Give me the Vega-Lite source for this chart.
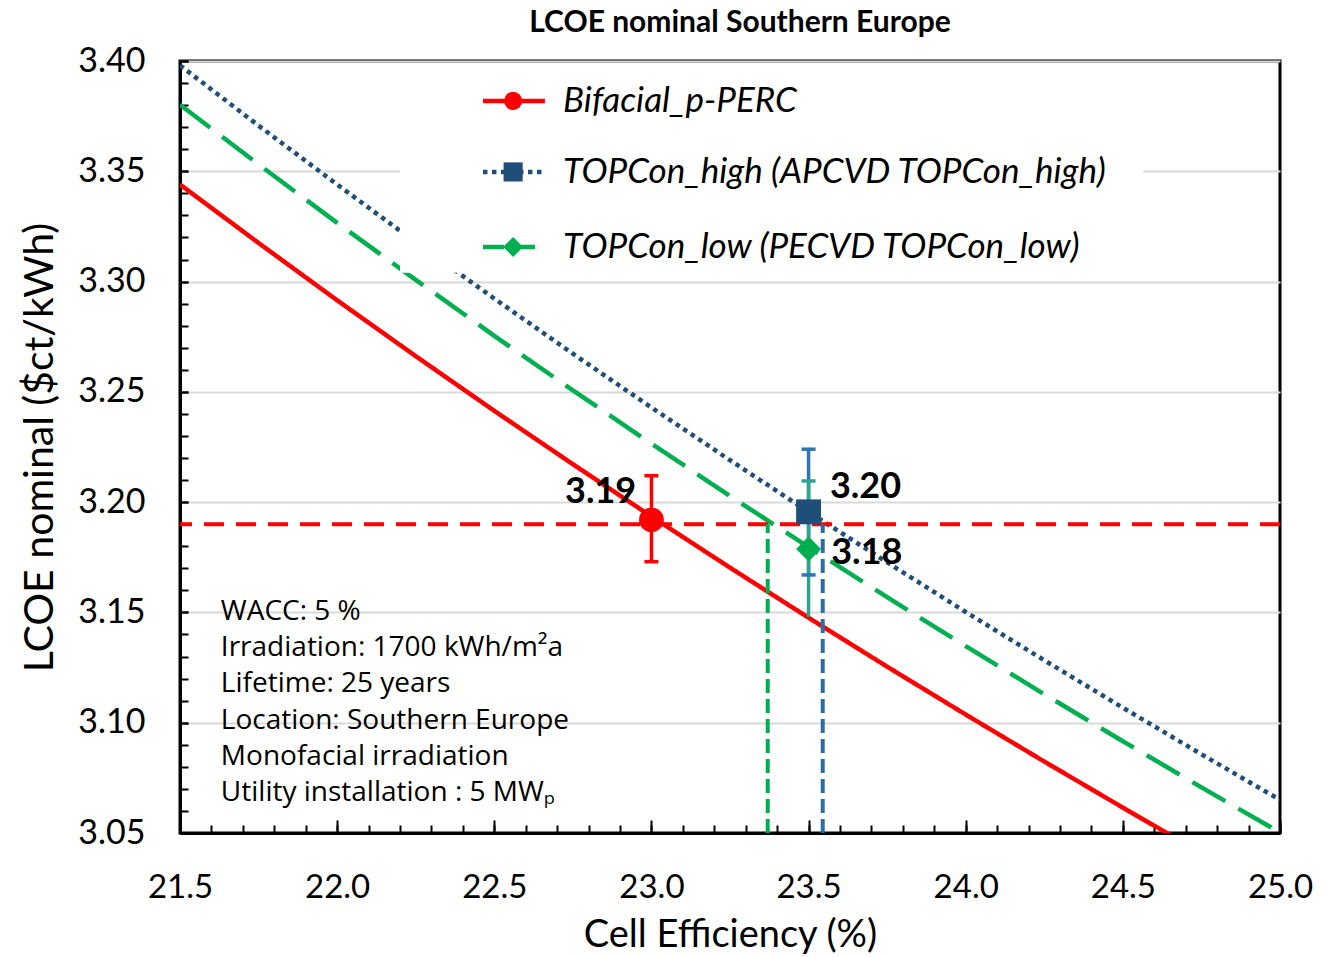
{
  "$schema": "https://vega.github.io/schema/vega-lite/v6.json",
  "width": 1100,
  "height": 772,
  "autosize": "none",
  "padding": {"left": 180, "top": 61, "right": 60, "bottom": 124},
  "background": "white",
  "config": {"view": {"stroke": "black", "strokeWidth": 3}, "font": "Lato"},
  "title": {"text": "LCOE nominal Southern Europe", "fontSize": 30, "fontWeight": "bold", "font": "Lato", "anchor": "middle", "frame": "group", "offset": 6, "dx": 10, "color": "black"},
  "datasets": {
    "lines": [
      {"series": "Bifacial_p-PERC", "eff": 21.5, "lcoe": 3.3440},
      {"series": "Bifacial_p-PERC", "eff": 21.75, "lcoe": 3.3175},
      {"series": "Bifacial_p-PERC", "eff": 22.0, "lcoe": 3.2915},
      {"series": "Bifacial_p-PERC", "eff": 22.25, "lcoe": 3.2662},
      {"series": "Bifacial_p-PERC", "eff": 22.5, "lcoe": 3.2414},
      {"series": "Bifacial_p-PERC", "eff": 22.75, "lcoe": 3.2172},
      {"series": "Bifacial_p-PERC", "eff": 23.0, "lcoe": 3.1935},
      {"series": "Bifacial_p-PERC", "eff": 23.25, "lcoe": 3.1703},
      {"series": "Bifacial_p-PERC", "eff": 23.5, "lcoe": 3.1476},
      {"series": "Bifacial_p-PERC", "eff": 23.75, "lcoe": 3.1254},
      {"series": "Bifacial_p-PERC", "eff": 24.0, "lcoe": 3.1037},
      {"series": "Bifacial_p-PERC", "eff": 24.25, "lcoe": 3.0824},
      {"series": "Bifacial_p-PERC", "eff": 24.5, "lcoe": 3.0615},
      {"series": "Bifacial_p-PERC", "eff": 24.75, "lcoe": 3.0410},
      {"series": "Bifacial_p-PERC", "eff": 25.0, "lcoe": 3.0210},
      {"series": "TOPCon_high", "eff": 21.5, "lcoe": 3.3980},
      {"series": "TOPCon_high", "eff": 21.75, "lcoe": 3.3707},
      {"series": "TOPCon_high", "eff": 22.0, "lcoe": 3.3440},
      {"series": "TOPCon_high", "eff": 22.25, "lcoe": 3.3178},
      {"series": "TOPCon_high", "eff": 22.5, "lcoe": 3.2923},
      {"series": "TOPCon_high", "eff": 22.75, "lcoe": 3.2673},
      {"series": "TOPCon_high", "eff": 23.0, "lcoe": 3.2429},
      {"series": "TOPCon_high", "eff": 23.25, "lcoe": 3.2190},
      {"series": "TOPCon_high", "eff": 23.5, "lcoe": 3.1956},
      {"series": "TOPCon_high", "eff": 23.75, "lcoe": 3.1727},
      {"series": "TOPCon_high", "eff": 24.0, "lcoe": 3.1502},
      {"series": "TOPCon_high", "eff": 24.25, "lcoe": 3.1283},
      {"series": "TOPCon_high", "eff": 24.5, "lcoe": 3.1068},
      {"series": "TOPCon_high", "eff": 24.75, "lcoe": 3.0857},
      {"series": "TOPCon_high", "eff": 25.0, "lcoe": 3.0650},
      {"series": "TOPCon_low", "eff": 21.5, "lcoe": 3.3802},
      {"series": "TOPCon_low", "eff": 21.75, "lcoe": 3.3531},
      {"series": "TOPCon_low", "eff": 22.0, "lcoe": 3.3266},
      {"series": "TOPCon_low", "eff": 22.25, "lcoe": 3.3008},
      {"series": "TOPCon_low", "eff": 22.5, "lcoe": 3.2754},
      {"series": "TOPCon_low", "eff": 22.75, "lcoe": 3.2507},
      {"series": "TOPCon_low", "eff": 23.0, "lcoe": 3.2265},
      {"series": "TOPCon_low", "eff": 23.25, "lcoe": 3.2028},
      {"series": "TOPCon_low", "eff": 23.5, "lcoe": 3.1796},
      {"series": "TOPCon_low", "eff": 23.75, "lcoe": 3.1569},
      {"series": "TOPCon_low", "eff": 24.0, "lcoe": 3.1347},
      {"series": "TOPCon_low", "eff": 24.25, "lcoe": 3.1129},
      {"series": "TOPCon_low", "eff": 24.5, "lcoe": 3.0916},
      {"series": "TOPCon_low", "eff": 24.75, "lcoe": 3.0707},
      {"series": "TOPCon_low", "eff": 25.0, "lcoe": 3.0502}
    ],
    "points": [
      {"series": "Bifacial_p-PERC", "eff": 23.0, "lcoe": 3.192, "lo": 3.173, "hi": 3.212},
      {"series": "TOPCon_high", "eff": 23.5, "lcoe": 3.1956, "lo": 3.167, "hi": 3.224},
      {"series": "TOPCon_low", "eff": 23.5, "lcoe": 3.1788, "lo": 3.148, "hi": 3.2096}
    ],
    "caps": [
      {"series": "Bifacial_p-PERC", "eff": 23.0, "lcoe": 3.212},
      {"series": "Bifacial_p-PERC", "eff": 23.0, "lcoe": 3.173},
      {"series": "TOPCon_high", "eff": 23.5, "lcoe": 3.224},
      {"series": "TOPCon_high", "eff": 23.5, "lcoe": 3.167},
      {"series": "TOPCon_low", "eff": 23.5, "lcoe": 3.2096}
    ],
    "guides": [
      {"series": "TOPCon_low", "eff": 23.37, "lcoe": 3.05, "top": 3.19},
      {"series": "TOPCon_high", "eff": 23.545, "lcoe": 3.05, "top": 3.19}
    ],
    "valueLabels": [
      {"eff": 22.725, "lcoe": 3.2046, "text": "3.19"},
      {"eff": 23.568, "lcoe": 3.2069, "text": "3.20"},
      {"eff": 23.572, "lcoe": 3.1769, "text": "3.18"}
    ],
    "legend": [
      {"series": "Bifacial_p-PERC", "eff": 22.464, "eff2": 22.661, "sym": 22.56, "txt": 22.719, "lcoe": 3.3819, "label": "Bifacial_p-PERC"},
      {"series": "TOPCon_high", "eff": 22.464, "eff2": 22.661, "sym": 22.56, "txt": 22.719, "lcoe": 3.3497, "label": "TOPCon_high (APCVD TOPCon_high)"},
      {"series": "TOPCon_low", "eff": 22.464, "eff2": 22.661, "sym": 22.56, "txt": 22.719, "lcoe": 3.3157, "label": "TOPCon_low (PECVD TOPCon_low)"}
    ]
  },
  "layer": [
    {
      "data": {"name": "lines"},
      "mark": {"type": "line", "clip": true, "strokeWidth": 4.5},
      "encoding": {
        "x": {
          "field": "eff", "type": "quantitative",
          "scale": {"domain": [21.5, 25.0], "nice": false, "zero": false},
          "axis": {
            "orient": "bottom",
            "values": [21.5, 22.0, 22.5, 23.0, 23.5, 24.0, 24.5, 25.0],
            "format": ".1f",
            "tickSize": -13, "tickColor": "black", "tickWidth": 2,
            "grid": false,
            "domainColor": "black", "domainWidth": 3,
            "labelFontSize": 33, "labelColor": "black", "labelFont": "Lato",
            "labelPadding": 51, "labelFlush": false, "labelOverlap": false, "labelBound": false,
            "title": "Cell Efficiency (%)", "titleFontSize": 38, "titleFontWeight": "normal", "titleColor": "black", "titleFont": "Lato", "titlePadding": 12
          }
        },
        "y": {
          "field": "lcoe", "type": "quantitative",
          "scale": {"domain": [3.05, 3.40], "nice": false, "zero": false},
          "axis": {
            "orient": "left",
            "values": [3.05, 3.10, 3.15, 3.20, 3.25, 3.30, 3.35, 3.40],
            "format": ".2f",
            "tickSize": -8, "tickColor": "black", "tickWidth": 2,
            "grid": true, "gridColor": "#d9d9d9", "gridWidth": 2,
            "domainColor": "black", "domainWidth": 3,
            "labelFontSize": 34, "labelColor": "black", "labelFont": "Lato",
            "labelPadding": 43, "labelOverlap": false, "labelBound": false, "labelFlush": false,
            "title": "LCOE nominal ($ct/kWh)", "titleFontSize": 41, "titleFontWeight": "normal", "titleColor": "black", "titleFont": "Lato", "titlePadding": 16
          }
        },
        "color": {"field": "series", "type": "nominal", "scale": {"domain": ["Bifacial_p-PERC", "TOPCon_high", "TOPCon_low"], "range": ["#ff0000", "#1f4e79", "#00b050"]}, "legend": null},
        "strokeDash": {"field": "series", "type": "nominal", "scale": {"domain": ["Bifacial_p-PERC", "TOPCon_high", "TOPCon_low"], "range": [[1, 0], [4.5, 4.5], [38, 15]]}, "legend": null}
      }
    },
    {
      "data": {"values": [{"lcoe": 3.19}]},
      "mark": {"type": "rule", "color": "#ff0000", "strokeWidth": 4, "strokeDash": [20, 12]},
      "encoding": {"y": {"field": "lcoe", "type": "quantitative", "axis": null}}
    },
    {
      "data": {"name": "guides"},
      "mark": {"type": "rule", "strokeWidth": 4, "strokeDash": [14, 6]},
      "encoding": {
        "x": {"field": "eff", "type": "quantitative", "axis": {
          "orient": "bottom",
          "values": [21.5,21.6,21.7,21.8,21.9,22.0,22.1,22.2,22.3,22.4,22.5,22.6,22.7,22.8,22.9,23.0,23.1,23.2,23.3,23.4,23.5,23.6,23.7,23.8,23.9,24.0,24.1,24.2,24.3,24.4,24.5,24.6,24.7,24.8,24.9,25.0],
          "labels": false, "domain": false, "grid": false, "title": null,
          "tickSize": -8, "tickColor": "black", "tickWidth": 2}},
        "y": {"field": "lcoe", "type": "quantitative", "axis": {
          "orient": "left",
          "values": [3.05,3.06,3.07,3.08,3.09,3.10,3.11,3.12,3.13,3.14,3.15,3.16,3.17,3.18,3.19,3.20,3.21,3.22,3.23,3.24,3.25,3.26,3.27,3.28,3.29,3.30,3.31,3.32,3.33,3.34,3.35,3.36,3.37,3.38,3.39,3.40],
          "labels": false, "domain": false, "grid": false, "title": null,
          "tickSize": -8, "tickColor": "black", "tickWidth": 2}},
        "y2": {"field": "top"},
        "color": {"field": "series", "type": "nominal", "scale": {"domain": ["TOPCon_low", "TOPCon_high"], "range": ["#00b050", "#2e6da4"]}, "legend": null}
      }
    },
    {
      "data": {"name": "points"},
      "mark": {"type": "rule", "strokeWidth": 3.5},
      "encoding": {
        "x": {"field": "eff", "type": "quantitative", "axis": null},
        "y": {"field": "lo", "type": "quantitative", "axis": null},
        "y2": {"field": "hi"},
        "color": {"field": "series", "type": "nominal", "scale": {"domain": ["Bifacial_p-PERC", "TOPCon_high", "TOPCon_low"], "range": ["#ff0000", "#2e75b6", "#2ca58d"]}, "legend": null}
      }
    },
    {
      "data": {"name": "caps"},
      "mark": {"type": "tick", "orient": "horizontal", "size": 14, "thickness": 3.5, "opacity": 1},
      "encoding": {
        "x": {"field": "eff", "type": "quantitative", "axis": null},
        "y": {"field": "lcoe", "type": "quantitative", "axis": null},
        "color": {"field": "series", "type": "nominal", "scale": {"domain": ["Bifacial_p-PERC", "TOPCon_high", "TOPCon_low"], "range": ["#ff0000", "#2e75b6", "#2ca58d"]}, "legend": null}
      }
    },
    {
      "data": {"name": "points"},
      "mark": {"type": "point", "filled": true, "opacity": 1},
      "encoding": {
        "x": {"field": "eff", "type": "quantitative", "axis": null},
        "y": {"field": "lcoe", "type": "quantitative", "axis": null},
        "shape": {"field": "series", "type": "nominal", "scale": {"domain": ["Bifacial_p-PERC", "TOPCon_high", "TOPCon_low"], "range": ["circle", "square", "diamond"]}, "legend": null},
        "size": {"field": "series", "type": "nominal", "scale": {"domain": ["Bifacial_p-PERC", "TOPCon_high", "TOPCon_low"], "range": [615, 625, 650]}, "legend": null},
        "color": {"field": "series", "type": "nominal", "scale": {"domain": ["Bifacial_p-PERC", "TOPCon_high", "TOPCon_low"], "range": ["#ff0000", "#1f4e79", "#00b050"]}, "legend": null}
      }
    },
    {
      "data": {"name": "valueLabels"},
      "mark": {"type": "text", "align": "left", "baseline": "middle", "font": "Lato", "fontSize": 36, "fontWeight": "bold", "color": "black"},
      "encoding": {
        "x": {"field": "eff", "type": "quantitative", "axis": null},
        "y": {"field": "lcoe", "type": "quantitative", "axis": null},
        "text": {"field": "text"}
      }
    },
    {
      "data": {"values": [{"eff": 22.2, "eff2": 24.565, "lcoe": 3.304, "lcoe2": 3.398}]},
      "mark": {"type": "rect", "fill": "white", "stroke": null},
      "encoding": {
        "x": {"field": "eff", "type": "quantitative", "axis": null},
        "x2": {"field": "eff2"},
        "y": {"field": "lcoe", "type": "quantitative", "axis": null},
        "y2": {"field": "lcoe2"}
      }
    },
    {
      "data": {"name": "legend"},
      "mark": {"type": "rule", "strokeWidth": 4.5},
      "encoding": {
        "x": {"field": "eff", "type": "quantitative", "axis": null},
        "x2": {"field": "eff2"},
        "y": {"field": "lcoe", "type": "quantitative", "axis": null},
        "color": {"field": "series", "type": "nominal", "scale": {"domain": ["Bifacial_p-PERC", "TOPCon_high", "TOPCon_low"], "range": ["#ff0000", "#1f4e79", "#00b050"]}, "legend": null},
        "strokeDash": {"field": "series", "type": "nominal", "scale": {"domain": ["Bifacial_p-PERC", "TOPCon_high", "TOPCon_low"], "range": [[1, 0], [4.5, 4.5], [21, 10]]}, "legend": null}
      }
    },
    {
      "data": {"name": "legend"},
      "mark": {"type": "point", "filled": true, "opacity": 1},
      "encoding": {
        "x": {"field": "sym", "type": "quantitative", "axis": null},
        "y": {"field": "lcoe", "type": "quantitative", "axis": null},
        "shape": {"field": "series", "type": "nominal", "scale": {"domain": ["Bifacial_p-PERC", "TOPCon_high", "TOPCon_low"], "range": ["circle", "square", "diamond"]}, "legend": null},
        "size": {"field": "series", "type": "nominal", "scale": {"domain": ["Bifacial_p-PERC", "TOPCon_high", "TOPCon_low"], "range": [330, 400, 420]}, "legend": null},
        "color": {"field": "series", "type": "nominal", "scale": {"domain": ["Bifacial_p-PERC", "TOPCon_high", "TOPCon_low"], "range": ["#ff0000", "#1f4e79", "#00b050"]}, "legend": null}
      }
    },
    {
      "data": {"name": "legend"},
      "mark": {"type": "text", "align": "left", "baseline": "middle", "font": "Lato", "fontSize": 35, "fontStyle": "italic", "color": "black"},
      "encoding": {
        "x": {"field": "txt", "type": "quantitative", "axis": null},
        "y": {"field": "lcoe", "type": "quantitative", "axis": null},
        "text": {"field": "label"}
      }
    },
    {
      "data": {"values": [{"eff": 21.63, "lcoe": 3.1567, "text": "WACC: 5 %\nIrradiation: 1700 kWh/m²a\nLifetime: 25 years\nLocation: Southern Europe\nMonofacial irradiation\nUtility installation : 5 MWₚ"}]},
      "mark": {"type": "text", "align": "left", "baseline": "top", "font": "Open Sans", "fontSize": 28, "lineHeight": 36.3, "lineBreak": "\n", "color": "black"},
      "encoding": {
        "x": {"field": "eff", "type": "quantitative", "axis": null},
        "y": {"field": "lcoe", "type": "quantitative", "axis": null},
        "text": {"field": "text"}
      }
    }
  ],
  "resolve": {
    "scale": {"color": "independent", "strokeDash": "independent", "shape": "independent", "size": "independent"},
    "axis": {"x": "independent", "y": "independent"}
  }
}
